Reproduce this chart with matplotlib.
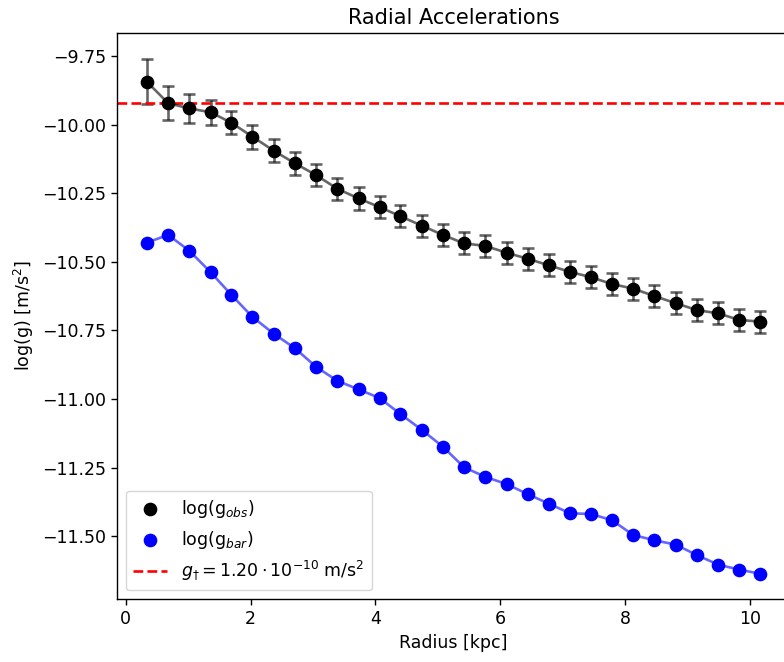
import numpy as np
import matplotlib
matplotlib.use("Agg")
import matplotlib.pyplot as plt

# 半径 [kpc]
radius = [0.34, 0.68, 1.02, 1.36, 1.69, 2.03, 2.37, 2.71, 3.05, 3.39,
          3.73, 4.07, 4.40, 4.74, 5.08, 5.42, 5.76, 6.10, 6.44, 6.78,
          7.12, 7.45, 7.79, 8.13, 8.47, 8.81, 9.15, 9.49, 9.83, 10.16]

# 観測された加速度 log(g_obs)
log_gobs = [-9.844, -9.922, -9.941, -9.955, -9.993, -10.044, -10.095, -10.141, -10.184, -10.234,
            -10.269, -10.301, -10.334, -10.368, -10.402, -10.433, -10.442, -10.467, -10.489, -10.513,
            -10.537, -10.556, -10.581, -10.598, -10.625, -10.651, -10.676, -10.688, -10.712, -10.718]
err_gobs = [0.082, 0.063, 0.054, 0.046, 0.043, 0.044, 0.043, 0.041, 0.041, 0.041,
            0.041, 0.041, 0.041, 0.040, 0.040, 0.040, 0.040, 0.040, 0.040, 0.040,
            0.040, 0.040, 0.040, 0.040, 0.040, 0.040, 0.040, 0.040, 0.040, 0.040]

# バリオンによる加速度 log(g_bar)
log_gbar = [-10.430, -10.402, -10.460, -10.538, -10.620, -10.701, -10.762, -10.815, -10.883, -10.934,
            -10.965, -10.997, -11.055, -11.112, -11.174, -11.249, -11.284, -11.310, -11.347, -11.382,
            -11.417, -11.419, -11.442, -11.496, -11.515, -11.531, -11.569, -11.604, -11.622, -11.637]

g_dagger = 1.20e-10

plt.rcParams['font.size'] = 12.5

fig = plt.figure(figsize=(7.84, 6.62), dpi=100)
ax = fig.add_axes([0.1492, 0.0952, 0.8584, 0.8554])

lw = 1.9
ax.errorbar(radius, log_gobs, yerr=err_gobs, color='k', alpha=0.6,
            linewidth=lw, elinewidth=lw, capsize=4.5, capthick=lw, zorder=2)
ax.plot(radius, log_gbar, color='b', alpha=0.6, linewidth=lw, zorder=2)
ax.scatter(radius, log_gobs, s=78, color='k', label='log(g$_{obs}$)', zorder=3)
ax.scatter(radius, log_gbar, s=78, color='b', label='log(g$_{bar}$)', zorder=3)
ax.axhline(np.log10(g_dagger), color='r', linestyle='--', linewidth=lw,
           label=r'$g_{\dagger}=1.20\cdot10^{-10}$ m/s$^2$')

ax.set_xlim(-0.14, 10.64)
ax.set_ylim(-11.729, -9.665)
ax.set_xticks([0, 2, 4, 6, 8, 10])
ax.set_yticks([-9.75, -10.0, -10.25, -10.5, -10.75, -11.0, -11.25, -11.5])
ax.tick_params(length=4.5, width=1.0)
for s in ax.spines.values():
    s.set_linewidth(1.0)

ax.set_title('Radial Accelerations', fontsize=15)
ax.set_xlabel('Radius [kpc]')
ax.set_ylabel('log(g) [m/s$^2$]')
ax.legend(loc='lower left', scatterpoints=1)

fig.savefig('out.png', dpi=100)
